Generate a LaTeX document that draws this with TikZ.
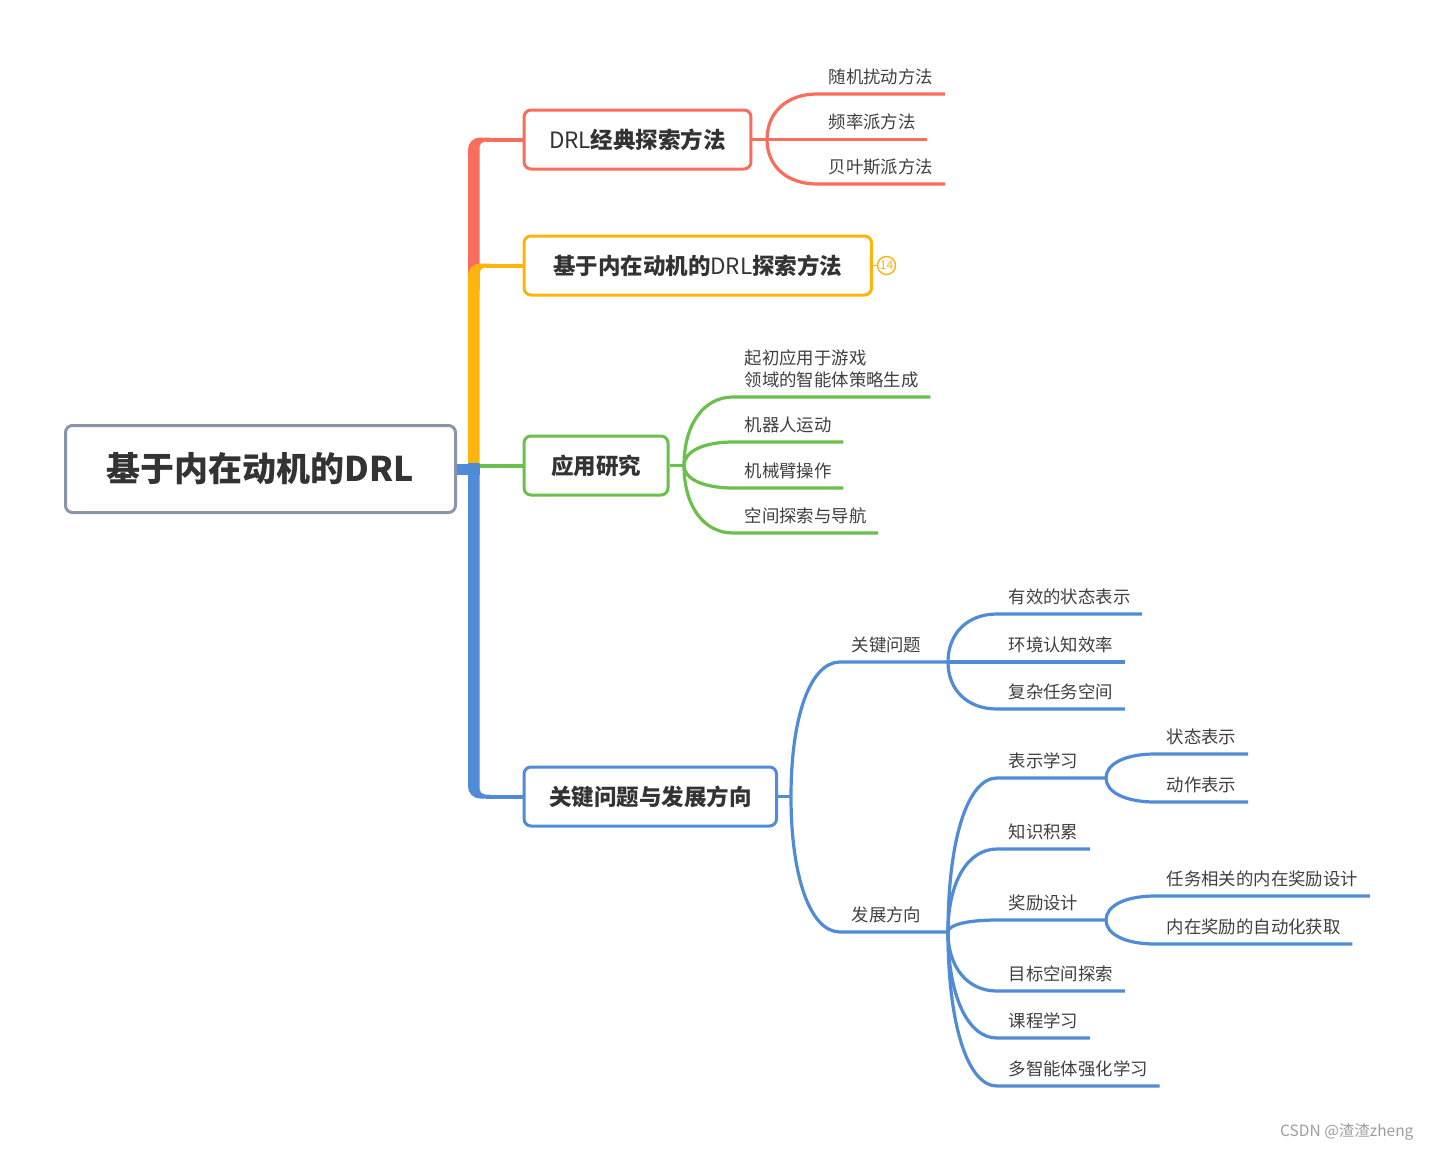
\documentclass[tikz,border=0pt]{standalone}
\usepackage{fontspec}
\setmainfont{Noto Sans CJK SC}
\usetikzlibrary{calc}
\definecolor{mmred}{HTML}{F96D5C}
\definecolor{mmorange}{HTML}{FDB50E}
\definecolor{mmgreen}{HTML}{6BBF4B}
\definecolor{mmblue}{HTML}{4F8BD7}
\definecolor{mmgray}{HTML}{8A95A8}
\definecolor{mmtext}{HTML}{333333}
\tikzset{
  topic/.style={draw,line width=3pt,rounded corners=7pt,fill=white,anchor=west,
    minimum height=59pt,inner xsep=25pt,text=mmtext,
    font=\fontsize{22.5}{26}\selectfont\bfseries},
  leaf/.style={anchor=south west,inner xsep=11.5pt,inner ysep=9pt,
    text height=13.5pt,text depth=1.5pt,text=black!75,
    font=\fontsize{17.4}{22}\selectfont},
  stem/.style={line width=4pt},
  twig/.style={line width=3.2pt},
  branch/.style={to path={.. controls ($(\tikztostart)!.6!(\tikztostart |- \tikztotarget)$)
    and ($(\tikztotarget)!.6!(\tikztostart |- \tikztotarget)$) .. (\tikztotarget) \tikztonodes}}
}
\begin{document}
\begin{tikzpicture}[x=1pt,y=-1pt]
  \path[use as bounding box,fill=white] (0,0) rectangle (1432,1151);
  \node[topic,draw=mmgray,anchor=center,minimum width=390pt,minimum height=87pt,
    font=\fontsize{34}{40}\selectfont\bfseries] (root) at (260.5,469) {基于内在动机的DRL};
  \node[topic,draw=mmred] (drl) at (522.5,139.5) {{\mdseries DRL}经典探索方法};
  \node[topic,draw=mmorange,inner xsep=29pt] (imd) at (522.5,265.5) {基于内在动机的{\mdseries DRL}探索方法};
  \node[topic,draw=mmgreen,inner xsep=27pt] (app) at (522.5,465.5) {应用研究};
  \node[topic,draw=mmblue] (key) at (522.5,796.5) {关键问题与发展方向};
  % trunk
  \coordinate (trunk) at (486,469);
  \fill[mmred] (468,290) -- (468,149.5) arc[start angle=180,end angle=270,radius=12]
    -- (490,137.5) -- (490,141.5) -- (485,141.5) arc[start angle=270,end angle=180,radius=5.5]
    -- (479.5,290) -- cycle;
  \fill[mmorange] (468,463) -- (468,275.5) arc[start angle=180,end angle=270,radius=12]
    -- (490,263.5) -- (490,267.5) -- (485,267.5) arc[start angle=270,end angle=180,radius=5.5]
    -- (479.5,463) -- cycle;
  \fill[mmblue] (468,463) -- (468,786.5) arc[start angle=180,end angle=90,radius=12]
    -- (490,798.5) -- (490,794.5) -- (485,794.5) arc[start angle=90,end angle=180,radius=5.5]
    -- (479.5,463) -- cycle;
  \draw[mmblue,line width=11pt] (root.east) -- (root.east -| 479.5,0);
  \draw[mmred,stem] (drl.west -| trunk) -- (drl.west);
  \draw[mmorange,stem] (imd.west -| trunk) -- (imd.west);
  \draw[mmgreen,stem] (app.west -| 479.5,0) -- (app.west);
  \draw[mmblue,stem] (key.west -| trunk) -- (key.west);
  % DRL classic methods
  \coordinate (rf) at (767,139.5);
  \draw[mmred,twig] (drl.east) -- (rf);
  \node[leaf] (r1) at (817,94) {随机扰动方法};
  \node[leaf] (r2) at (817,139.5) {频率派方法};
  \node[leaf] (r3) at (817,184) {贝叶斯派方法};
  \draw[mmred,twig] (rf) to[branch] (r1.south west) -- (r1.south east);
  \draw[mmred,twig] (rf) to[branch] (r2.south west) -- (r2.south east);
  \draw[mmred,twig] (rf) to[branch] (r3.south west) -- (r3.south east);
  % collapsed topic
  \node[circle,draw=mmorange,fill=white,line width=1.4pt,inner sep=0pt,minimum size=18pt,
    text=mmorange,font=\fontsize{12}{12}\selectfont] (n14) at (886.5,265.5) {14};
  \draw[mmorange,line width=1.8pt] (imd.east) -- (n14);
  % applications
  \coordinate (gf) at (684,465.5);
  \draw[mmgreen,twig] (app.east) -- (gf);
  \node[leaf,align=left,text height=,text depth=] (g1) at (733,397) {起初应用于游戏\\领域的智能体策略生成};
  \node[leaf] (g2) at (733,442) {机器人运动};
  \node[leaf] (g3) at (733,488) {机械臂操作};
  \node[leaf] (g4) at (733,533) {空间探索与导航};
  \draw[mmgreen,twig] (gf) to[branch] (g1.south west) -- (g1.south east);
  \draw[mmgreen,twig] (gf) to[branch] (g2.south west) -- (g2.south east);
  \draw[mmgreen,twig] (gf) to[branch] (g3.south west) -- (g3.south east);
  \draw[mmgreen,twig] (gf) to[branch] (g4.south west) -- (g4.south east);
  % key problems and directions
  \coordinate (bf) at (791,796.5);
  \draw[mmblue,twig] (key.east) -- (bf);
  \node[leaf] (b1) at (840,662) {关键问题};
  \node[leaf] (b2) at (840,932) {发展方向};
  \coordinate (b1f) at (948,662);
  \coordinate (b2f) at (948,932);
  \draw[mmblue,twig] (bf) to[branch] (b1.south west) -- (b1f);
  \draw[mmblue,twig] (bf) to[branch] (b2.south west) -- (b2f);
  \node[leaf] (b11) at (997,614) {有效的状态表示};
  \node[leaf] (b12) at (997,662) {环境认知效率};
  \node[leaf] (b13) at (997,709) {复杂任务空间};
  \draw[mmblue,twig] (b1f) to[branch] (b11.south west) -- (b11.south east);
  \draw[mmblue,twig] (b1f) to[branch] (b12.south west) -- (b12.south east);
  \draw[mmblue,twig] (b1f) to[branch] (b13.south west) -- (b13.south east);
  \node[leaf] (b21) at (997,778) {表示学习};
  \node[leaf] (b22) at (997,849) {知识积累};
  \node[leaf] (b23) at (997,920) {奖励设计};
  \node[leaf] (b24) at (997,991) {目标空间探索};
  \node[leaf] (b25) at (997,1038) {课程学习};
  \node[leaf] (b26) at (997,1086) {多智能体强化学习};
  \coordinate (b21f) at (1106,778);
  \coordinate (b23f) at (1106,920);
  \draw[mmblue,twig] (b2f) to[branch] (b21.south west) -- (b21f);
  \draw[mmblue,twig] (b2f) to[branch] (b22.south west) -- (b22.south east);
  \draw[mmblue,twig] (b2f) to[branch] (b23.south west) -- (b23f);
  \draw[mmblue,twig] (b2f) to[branch] (b24.south west) -- (b24.south east);
  \draw[mmblue,twig] (b2f) to[branch] (b25.south west) -- (b25.south east);
  \draw[mmblue,twig] (b2f) to[branch] (b26.south west) -- (b26.south east);
  \node[leaf] (b211) at (1155,754) {状态表示};
  \node[leaf] (b212) at (1155,802) {动作表示};
  \draw[mmblue,twig] (b21f) to[branch] (b211.south west) -- (b211.south east);
  \draw[mmblue,twig] (b21f) to[branch] (b212.south west) -- (b212.south east);
  \node[leaf] (b231) at (1155,896) {任务相关的内在奖励设计};
  \node[leaf] (b232) at (1155,944) {内在奖励的自动化获取};
  \draw[mmblue,twig] (b23f) to[branch] (b231.south west) -- (b231.south east);
  \draw[mmblue,twig] (b23f) to[branch] (b232.south west) -- (b232.south east);
  \node[anchor=east,text=black!38,font=\fontsize{15.5}{17}\selectfont] (wm) at (1417,1132) {CSDN @渣渣zheng};
\end{tikzpicture}
\end{document}
